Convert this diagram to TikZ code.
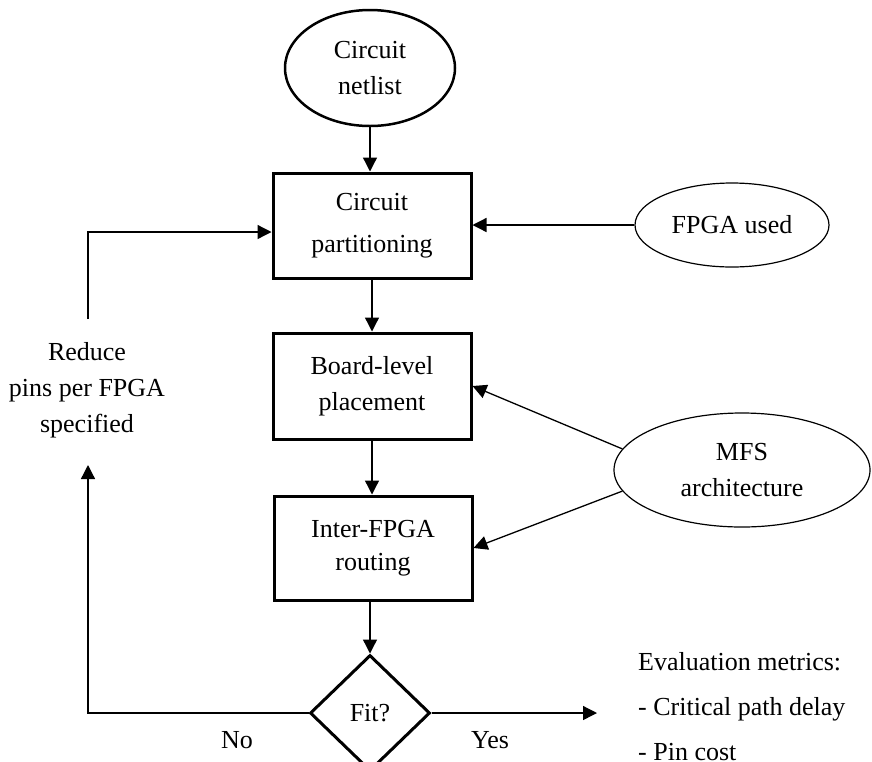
\documentclass[tikz,border=0pt]{standalone}
\usepackage{fontspec}
\setmainfont{Liberation Serif}
\usetikzlibrary{shapes.geometric,arrows.meta}
\begin{document}
\begin{tikzpicture}[x=1pt,y=-1pt,
  txt/.style={font=\fontsize{26}{36}\selectfont, align=center, inner sep=0pt},
  procbox/.style={txt, draw, rectangle, line width=3pt, minimum width=198pt, minimum height=105pt},
  oval/.style={txt, draw, ellipse, line width=1.2pt},
  decision/.style={txt, draw, diamond, line width=3pt, minimum width=120pt, minimum height=116pt},
  link/.style={line width=1.3pt},
  arr/.style={link, -{Triangle[length=14pt,width=14pt]}}
]
\useasboundingbox (0,0) rectangle (872,761);

% process flow
\node[oval, line width=2.5pt, minimum width=170pt, minimum height=116pt] (netlist) at (370,68) {Circuit\\netlist};
\node[procbox] (part) at (372,225.5) {Circuit\\[6pt]partitioning};
\node[procbox, minimum height=106pt] (board) at (372,386) {Board-level\\placement};
\node[procbox, minimum height=104pt] (inter) at (373,548) {Inter-FPGA\\[-3pt]routing};
\node[decision] (fit) at (370,713) {Fit?};

% inputs on the right
\node[oval, minimum width=194pt, minimum height=84pt] (fpga) at (732,225) {FPGA used};
\node[oval, minimum width=256pt, minimum height=114pt] (mfs) at (742,470) {MFS\\architecture};

% labels
\node[txt] (reduce) at (87,390) {Reduce\\pins per FPGA\\specified};
\node[txt] (no) at (237,740) {No};
\node[txt] (yes) at (490,740) {Yes};
\node[txt, font=\fontsize{26}{45}\selectfont, align=left, anchor=west] (metrics) at (638,707)
  {Evaluation metrics:\\- Critical path delay\\- Pin cost};

% main chain
\draw[arr] (netlist.south) -- (netlist.south |- part.north);
\draw[arr] (part.south) -- (board.north);
\draw[arr] (board.south) -- (inter.north -| board.south);
\draw[arr] (inter.south -| fit.north) -- (fit.north);

% side inputs
\draw[arr] (fpga.west) -- (fpga.west -| part.east);
\draw[arr] (mfs.170) -- (board.east);
\draw[arr] (mfs.190) -- (inter.east);

% outcomes
\coordinate (yesend) at (597,713);
\draw[arr] (fit.east) -- (yesend);
\coordinate (noup) at (88,465);
\draw[arr] (fit.west) -| (noup);

% feedback into partitioning
\coordinate (fbstart) at (88,319);
\coordinate (fbturn) at (88,232);
\draw[arr] (fbstart) -- (fbturn) -- (fbturn -| part.west);
\end{tikzpicture}
\end{document}
